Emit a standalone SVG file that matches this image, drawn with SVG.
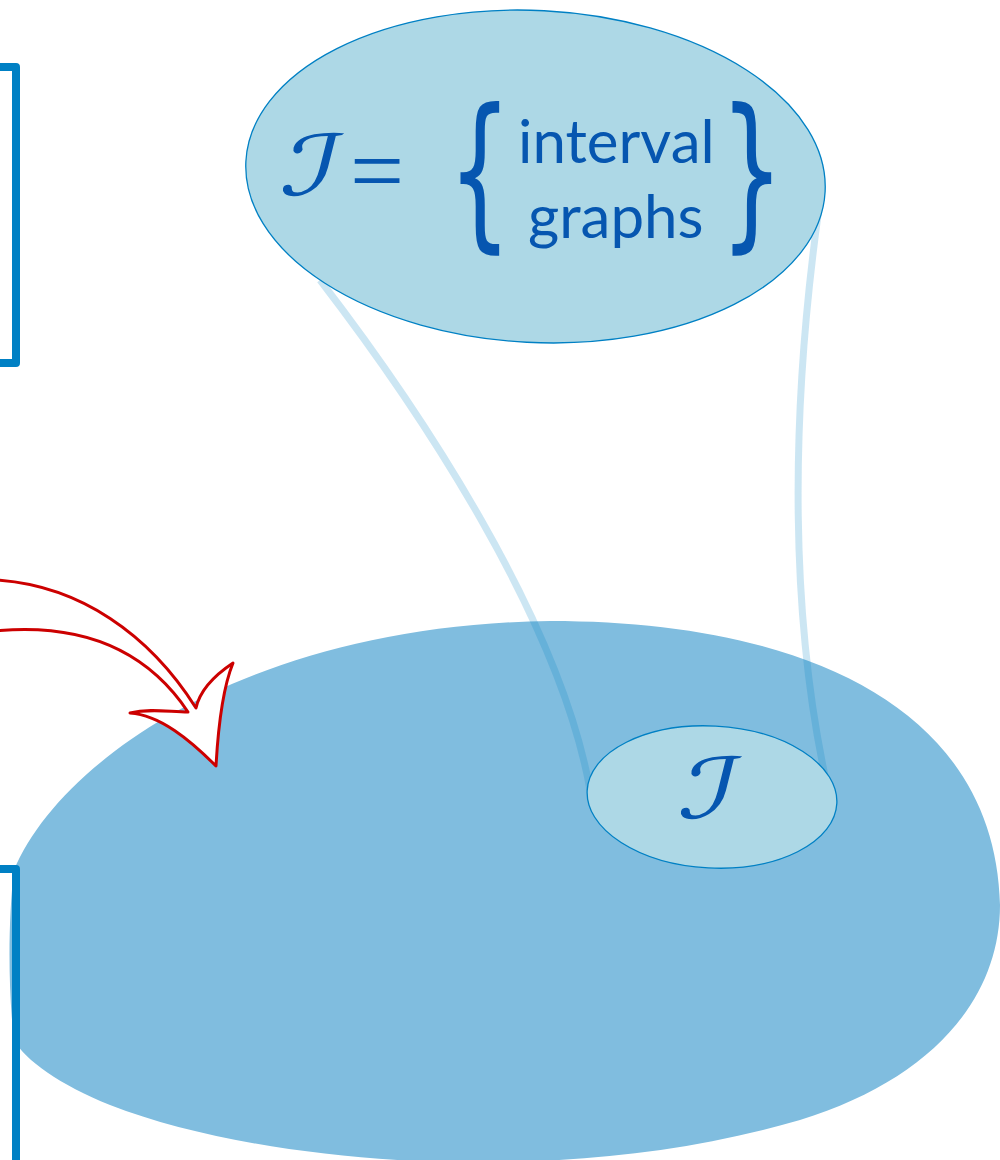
<svg xmlns="http://www.w3.org/2000/svg" width="1000" height="1160" viewBox="0 0 1000 1160">
<style>
.bracket{fill:none;stroke:#0080c4;stroke-width:8;stroke-linejoin:round}
.ell{fill:#add8e6;stroke:#0080c4;stroke-width:1.3}
.conn{fill:none;stroke:#0080c4;stroke-opacity:0.2;stroke-width:7}
.t{fill:#0656b0}
.word{font-family:Lato,"DejaVu Sans",sans-serif;font-size:60px}
.scr{font-family:"DejaVu Serif","DejaVu Sans",serif;font-style:italic;font-size:84px}
.br{font-family:"DejaVu Sans",sans-serif;font-size:100px}
</style>
<rect width="1000" height="1160" fill="#ffffff"/>
<g id="universe">
<path d="M 550,621 C 800,621 995,705 1000,905 C 1000,1000 930,1080 800,1120 C 680,1155 560,1164 450,1162 C 330,1160 200,1140 110,1105 C 60,1085 25,1060 14,1040 C 8,990 8,920 14,870 C 60,760 250,625 550,621 Z" fill="#80bddf"/>
</g>
<g id="connectors">
<path class="conn" d="M 320,280 C 420,410 560,620 590,790"/>
<path class="conn" d="M 818,215 C 790,420 790,620 828,790"/>
</g>
<g id="definition">
<ellipse class="ell" cx="535.5" cy="176.5" rx="290" ry="166" transform="rotate(3 535.5 176.5)"/>
<text class="t scr" transform="translate(278 195) skewX(-14) scale(1.4 1)">ℐ</text>
<text class="t" x="350" y="203" style="font-family:'Liberation Serif',serif;font-size:96px">=</text>
<text class="t br" transform="translate(448 229) scale(1 1.68)">{</text>
<text class="t word" x="518" y="163">interval</text>
<text class="t word" x="528" y="238">graphs</text>
<text class="t br" transform="translate(720 229) scale(1 1.68)">}</text>
</g>
<g id="class-I">
<ellipse class="ell" cx="712" cy="797" rx="125" ry="71" transform="rotate(3 712 797)"/>
<text class="t scr" transform="translate(676 818) skewX(-14) scale(1.4 1)">ℐ</text>
</g>
<g id="arrow">
<path d="M -5,580 C 80,585 150,635 196,708 C 200,690 215,675 233,663 C 222,690 218,730 216,766 C 190,740 160,715 130,713 C 150,708 170,712 188,712 C 150,655 90,622 -5,631" fill="#ffffff" stroke="#cc0000" stroke-width="3" stroke-linejoin="round"/>
</g>
<g id="bracket-top">
<path class="bracket" d="M -4,67 H 16 V 363 H -4"/>
</g>
<g id="bracket-bottom">
<path class="bracket" d="M -4,869 H 16 V 1170"/>
</g>
</svg>
